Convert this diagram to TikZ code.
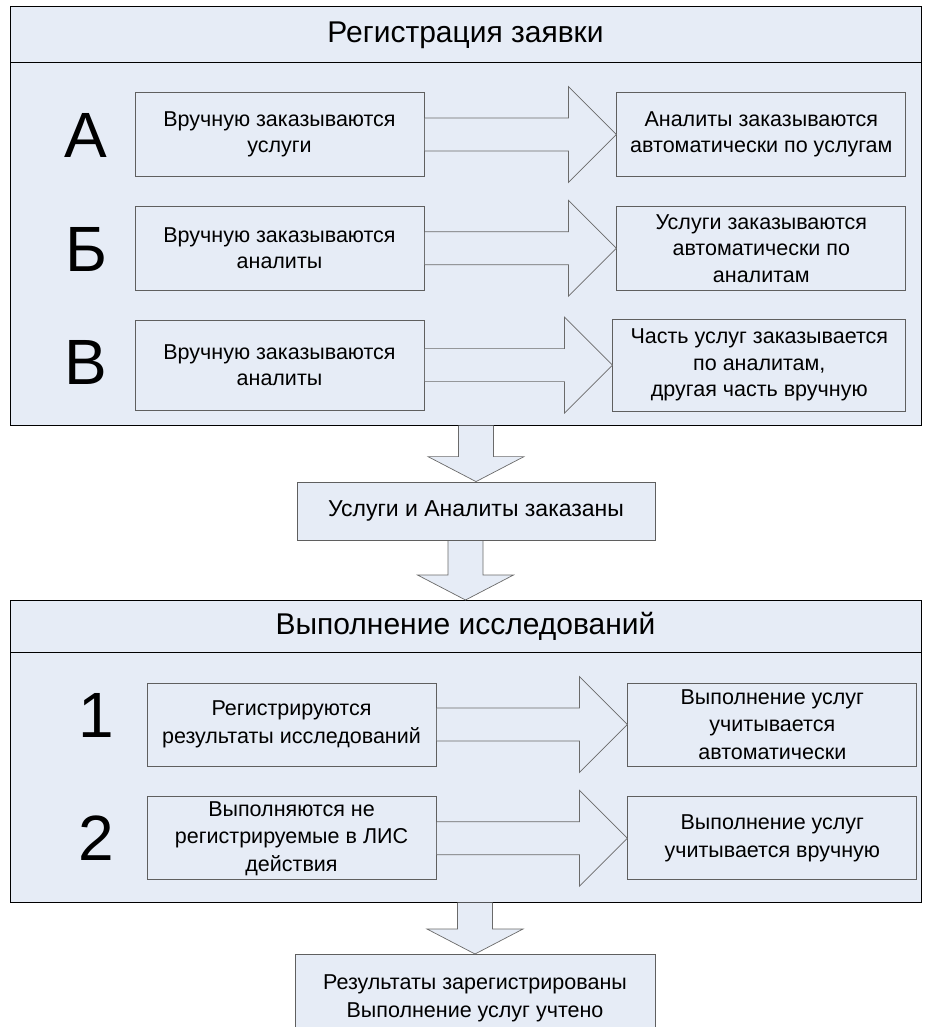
\documentclass[tikz,border=0pt]{standalone}
\usepackage{fontspec}
\setmainfont{Liberation Sans}
\usetikzlibrary{positioning,calc}

\definecolor{panelfill}{HTML}{E6ECF6}
\definecolor{boxline}{HTML}{5F5F5F}
\definecolor{arrowline}{HTML}{6A6A6A}

% wide arrow between two boxes of one row
\newcommand{\rowarrow}[2]{%
  \filldraw[blockarrow] let \p1=(#1.east), \p2=(#2.west) in
    (\x1+0.5pt,\y1+16.5pt) -- (\x2-48pt,\y1+16.5pt) -- (\x2-48pt,\y1+48pt) -- (\x2,\y1)
    -- (\x2-48pt,\y1-48pt) -- (\x2-48pt,\y1-16.5pt) -- (\x1+0.5pt,\y1-16.5pt);}
% wide arrow down to the next stage
\newcommand{\stagearrow}[2]{%
  \filldraw[blockarrow] let \p1=(#1.south), \p2=(#2.north) in
    (\x2-17.5pt,\y1-0.6pt) -- (\x2-17.5pt,\y2+25pt) -- (\x2-48pt,\y2+25pt) -- (\x2,\y2)
    -- (\x2+48pt,\y2+25pt) -- (\x2+17.5pt,\y2+25pt) -- (\x2+17.5pt,\y1-0.6pt);}

\begin{document}
\begin{tikzpicture}[
  x=1pt, y=-1pt,
  every node/.style={font=\fontsize{21.5}{26.5}\selectfont},
  panel/.style={draw=black, fill=panelfill, line width=1pt, minimum width=911pt, inner sep=0pt, outer sep=0pt},
  paneltitle/.style={panel, font=\fontsize{30}{34}\selectfont},
  stepbox/.style={draw=boxline, fill=panelfill, line width=0.8pt, minimum width=289pt, minimum height=84pt, align=center, inner sep=2pt},
  tallbox/.style={stepbox, minimum height=83pt, font=\fontsize{21.5}{27.5}\selectfont},
  rowlabel/.style={anchor=base, font=\fontsize{64}{64}\selectfont},
  blockarrow/.style={draw=arrowline, fill=panelfill, line width=0.7pt}
]
\useasboundingbox (0,0) rectangle (926,1027);
\clip (0,0) rectangle (926,1027);

% stage 1
\node [paneltitle, minimum height=56pt] (reg) at (465.5,35) {Регистрация заявки};
\node [panel, minimum height=362pt, below=0pt of reg] (regbody) {};

\node [stepbox] (aman) at (279.5,134.5) {Вручную заказываются\\услуги};
\node [stepbox, right=192pt of aman] (aauto) {Аналиты заказываются\\автоматически по услугам};
\node [stepbox, below=29pt of aman] (bman) {Вручную заказываются\\аналиты};
\node [stepbox, right=192pt of bman] (bauto) {Услуги заказываются\\автоматически по\\аналитам};
\node [stepbox, minimum height=90pt, below=29pt of bman] (vman) {Вручную заказываются\\аналиты};
\node [stepbox, minimum height=92pt, minimum width=293pt, right=188pt of vman] (vpart) {Часть услуг заказывается\\по аналитам,\\другая часть вручную};

\node [rowlabel] (la) at (86,158) {А};
\node [rowlabel] (lb) at (86,271) {Б};
\node [rowlabel] (lv) at (86,384) {В};

\rowarrow{aman}{aauto}
\rowarrow{bman}{bauto}
\rowarrow{vman}{vpart}

% between the stages
\node [stepbox, minimum width=358pt, minimum height=58pt, font=\fontsize{23}{27}\selectfont] (ordered) at (476,511) {Услуги и Аналиты заказаны};
\stagearrow{regbody}{ordered}

% stage 2
\node [paneltitle, minimum height=52pt] (exe) at (465.5,626) {Выполнение исследований};
\node [panel, minimum height=250pt, below=0pt of exe] (exebody) {};
\stagearrow{ordered}{exe}

\node [tallbox] (res) at (291.5,724.5) {Регистрируются\\результаты исследований};
\node [tallbox, right=191pt of res] (resauto) {Выполнение услуг\\учитывается\\автоматически};
\node [tallbox, below=30pt of res] (act) {Выполняются не\\регистрируемые в ЛИС\\действия};
\node [tallbox, right=191pt of act] (actman) {Выполнение услуг\\учитывается вручную};

\node [rowlabel] (l1) at (96,737) {1};
\node [rowlabel] (l2) at (96,860) {2};

\rowarrow{res}{resauto}
\rowarrow{act}{actman}

% result
\node [tallbox, minimum width=360pt, minimum height=88pt, anchor=north] (done) at (475,954) {Результаты зарегистрированы\\Выполнение услуг учтено};
\stagearrow{exebody}{done}
\end{tikzpicture}
\end{document}
